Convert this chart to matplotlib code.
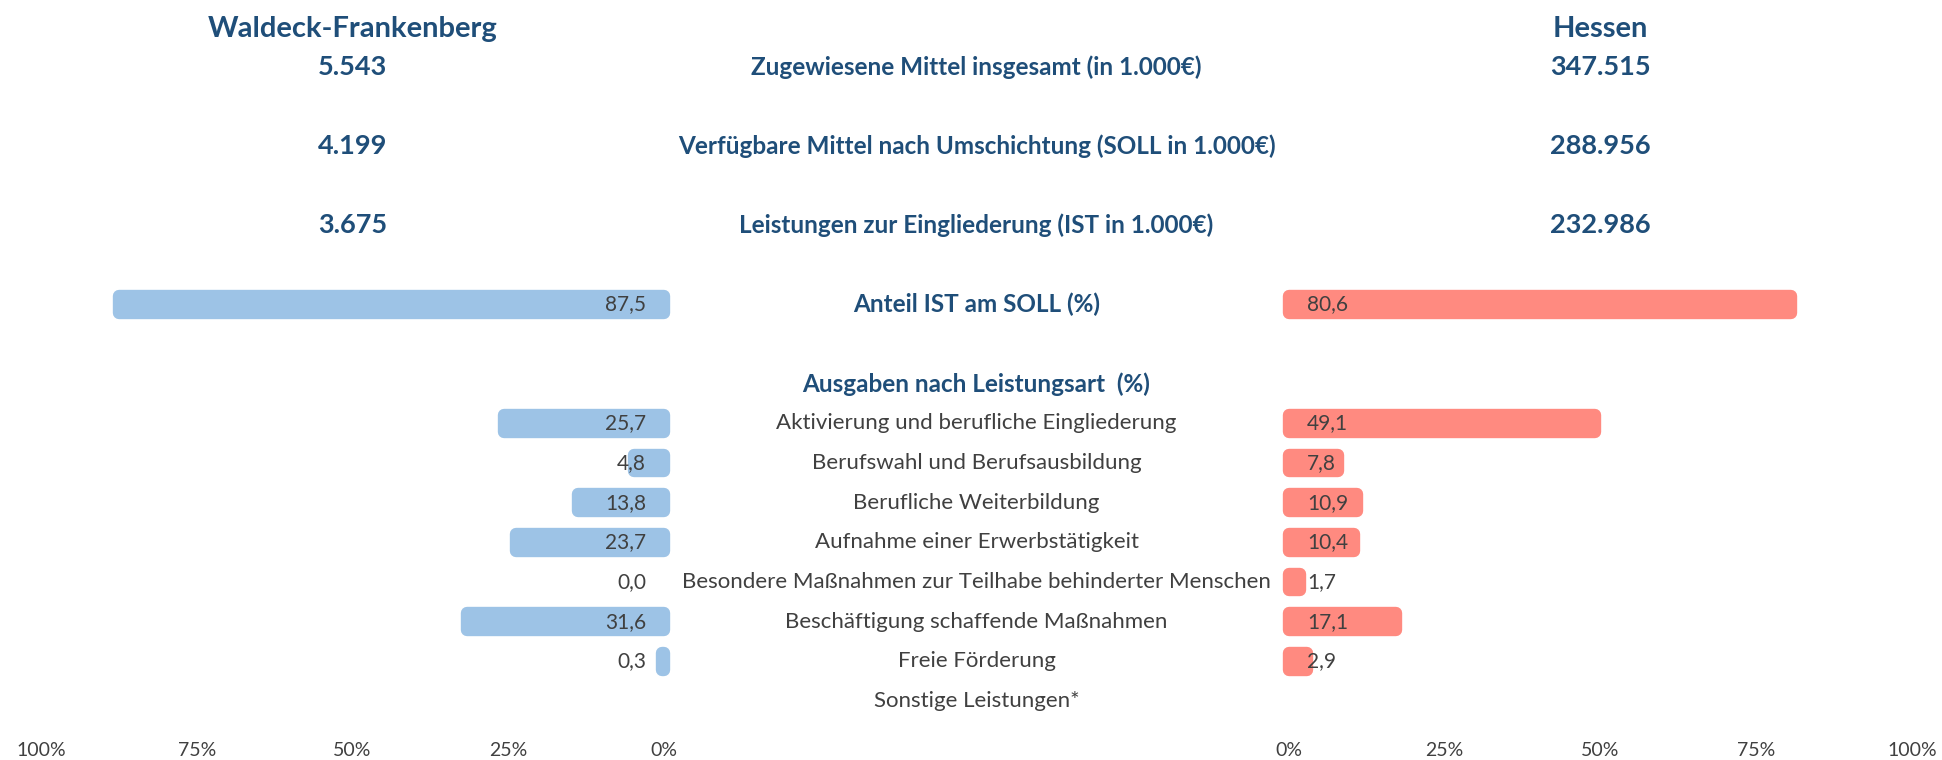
import matplotlib
matplotlib.use("Agg")
import matplotlib.pyplot as plt
import matplotlib.transforms as mtransforms

plt.rcParams["font.family"] = ["Lato", "DejaVu Sans"]

# Daten
regionen = ["Waldeck-Frankenberg", "Hessen"]
kennzahlen = ["Zugewiesene Mittel insgesamt (in 1.000€)",
              "Verfügbare Mittel nach Umschichtung (SOLL in 1.000€)",
              "Leistungen zur Eingliederung (IST in 1.000€)"]
wf_mittel = [5543, 4199, 3675]
he_mittel = [347515, 288956, 232986]
ist_soll_titel = "Anteil IST am SOLL (%)"
wf_ist_soll = 87.5
he_ist_soll = 80.6
ausgaben_titel = "Ausgaben nach Leistungsart  (%)"
kategorien = ["Aktivierung und berufliche Eingliederung",
              "Berufswahl und Berufsausbildung",
              "Berufliche Weiterbildung",
              "Aufnahme einer Erwerbstätigkeit",
              "Besondere Maßnahmen zur Teilhabe behinderter Menschen",
              "Beschäftigung schaffende Maßnahmen",
              "Freie Förderung",
              "Sonstige Leistungen*"]
wf_anteile = [25.7, 4.8, 13.8, 23.7, 0.0, 31.6, 0.3]
he_anteile = [49.1, 7.8, 10.9, 10.4, 1.7, 17.1, 2.9]
ticks = [0, 25, 50, 75, 100]

blau = "#9DC3E6"
rot = "#FF8A80"
titel_farbe = "#1F4E79"
grau = "#404040"

# Zeilen-Layout
zeile_mittel = [-9, -7, -5]
zeile_header = -9.95
zeile_ist = -3
zeile_ausgaben = -1

def tsd(v):
    return f"{v:,.0f}".replace(",", ".")

def pct(v):
    return f"{v:.1f}".replace(".", ",")

fig = plt.figure(figsize=(19.42, 7.6), dpi=100)
ax_l = fig.add_axes([41 / 1942, 0.0288, 623 / 1942, 0.9712])
ax_r = fig.add_axes([1289 / 1942, 0.0288, 623 / 1942, 0.9712])

for ax in (ax_l, ax_r):
    ax.set_ylim(7.94, -10.685)
    for s in ax.spines.values():
        s.set_visible(False)
    ax.set_yticks([])
    ax.set_xticks(ticks)
    ax.set_xticklabels([f"{t}%" for t in ticks])
    ax.tick_params(axis="x", length=0, pad=3, labelsize=14, labelcolor=grau)
ax_l.set_xlim(100, 0)
ax_r.set_xlim(0, 100)

lw = 8.9
h = 0.42
zeilen = list(range(len(wf_anteile)))

for ax, werte, ist, farbe, side in ((ax_l, wf_anteile, wf_ist_soll, blau, -1),
                                     (ax_r, he_anteile, he_ist_soll, rot, 1)):
    bars = ax.barh(zeilen, werte, height=h, color=farbe, edgecolor=farbe,
                   linewidth=lw, joinstyle="round", clip_on=False)
    for b, v in zip(bars, werte):
        if v == 0:
            b.set_visible(False)
    ax.barh([zeile_ist], [ist], height=h, color=farbe, edgecolor=farbe,
            linewidth=lw, joinstyle="round", clip_on=False)
    ha = "right" if side < 0 else "left"
    for y, v in list(zip(zeilen, werte)) + [(zeile_ist, ist)]:
        ax.annotate(pct(v), (0, y), xytext=(side * 13, 0), textcoords="offset points",
                    ha=ha, va="center", fontsize=15, color=grau, zorder=5)

# Kopfzeilen und Kennzahlen
for ax, name, mittel in ((ax_l, regionen[0], wf_mittel), (ax_r, regionen[1], he_mittel)):
    ax.text(50, zeile_header, name, ha="center", va="center", fontsize=21,
            fontweight="bold", color=titel_farbe)
    for y, v in zip(zeile_mittel, mittel):
        ax.text(50, y, tsd(v), ha="center", va="center", fontsize=19.5,
                fontweight="bold", color=titel_farbe)

mitte = (41 + 623 + 1289) / 2 / 1942
trans = mtransforms.blended_transform_factory(fig.transFigure, ax_l.transData)
for y, t in zip(zeile_mittel, kennzahlen):
    fig.text(mitte, y, t, transform=trans, ha="center", va="center", fontsize=17.5,
             fontweight="bold", color=titel_farbe)
fig.text(mitte, zeile_ist, ist_soll_titel, transform=trans, ha="center", va="center",
         fontsize=17.5, fontweight="bold", color=titel_farbe)
fig.text(mitte, zeile_ausgaben, ausgaben_titel, transform=trans, ha="center", va="center",
         fontsize=17.5, fontweight="bold", color=titel_farbe)
for y, t in enumerate(kategorien):
    fig.text(mitte, y, t, transform=trans, ha="center", va="center", fontsize=16,
             color=grau)

fig.savefig("out.png", dpi=100)
